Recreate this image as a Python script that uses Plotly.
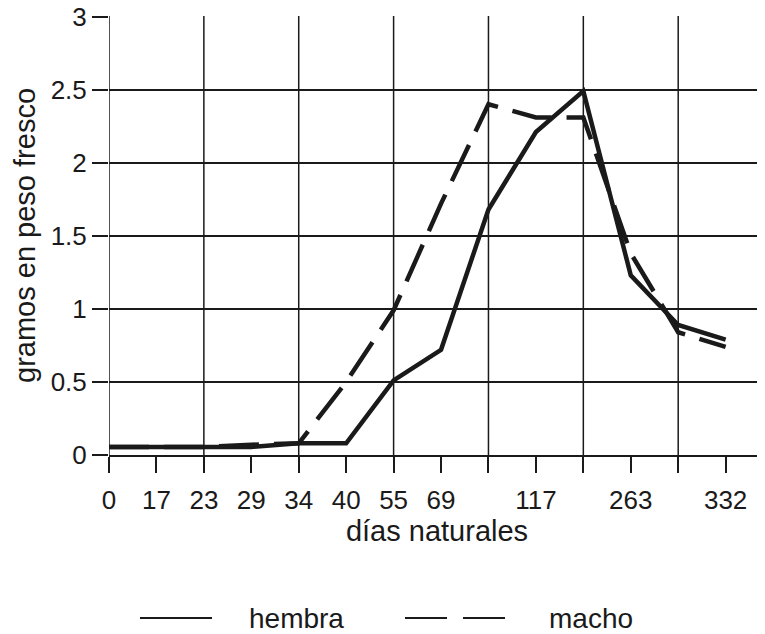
import plotly.graph_objects as go

categories = list(range(14))
tick_labels = ["0", "17", "23", "29", "34", "40", "55", "69", "", "117", "", "263", "", "332"]
hembra = [0.055, 0.055, 0.055, 0.055, 0.08, 0.08, 0.51, 0.72, 1.68, 2.21, 2.49, 1.23, 0.89, 0.79]
macho = [0.055, 0.055, 0.055, 0.07, 0.08, 0.50, 0.99, 1.72, 2.40, 2.31, 2.31, 1.38, 0.84, 0.74]
series_names = ["hembra", "macho"]

FONT = "Liberation Sans, Arial, sans-serif"
INK = "#1a1a1a"
# the page body adds an 8px offset, so the figure is drawn 8px smaller
FIG_W, FIG_H = 757, 626
M_L, M_R, M_T, M_B = 101, 0, 8, 179
PLOT_H = FIG_H - M_T - M_B
PLOT_W = FIG_W - M_L - M_R

def px_x(screen_x):
    return (screen_x - 8 - M_L) / PLOT_W

def px_y(screen_y):
    return (FIG_H - M_B - (screen_y - 8)) / PLOT_H

fig = go.Figure()
fig.add_trace(go.Scatter(x=categories, y=hembra, mode="lines", name=series_names[0],
                         line=dict(color=INK, width=4.5)))
fig.add_trace(go.Scatter(x=categories, y=macho, mode="lines", name=series_names[1],
                         line=dict(color=INK, width=4.5, dash="40px,15px")))

fig.update_layout(
    width=FIG_W, height=FIG_H,
    margin=dict(l=M_L, r=M_R, t=M_T, b=M_B, autoexpand=False),
    paper_bgcolor="white", plot_bgcolor="white",
    showlegend=False,
    font=dict(family=FONT, color=INK),
)
fig.update_xaxes(
    range=[0, 13.83], automargin=False,
    tickmode="array", tickvals=categories, ticktext=tick_labels,
    ticks="outside", ticklen=16, tickwidth=1.5, tickcolor=INK,
    tickfont=dict(size=26), ticklabelstandoff=5,
    showgrid=False,
    showline=True, linecolor=INK, linewidth=1.5,
    zeroline=False,
    title=dict(text="días naturales", font=dict(size=29), standoff=3),
)
for c in categories[::2]:
    fig.add_vline(x=c, line=dict(color=INK, width=1.5), layer="below")

fig.update_yaxes(
    range=[0, 3.004], automargin=False,
    tickmode="array", tickvals=[0, 0.5, 1, 1.5, 2, 2.5, 3],
    ticktext=["0", "0.5", "1", "1.5", "2", "2.5", "3"],
    ticks="outside", ticklen=16, tickwidth=1.5, tickcolor=INK,
    tickfont=dict(size=26), ticklabeloverflow="allow",
    showgrid=True, gridcolor=INK, gridwidth=1.5,
    showline=False, zeroline=False,
    title=dict(text="gramos en peso fresco", font=dict(size=29), standoff=6),
)

# legend drawn below the plot
line_y = px_y(618)
text_y = px_y(618)
fig.add_shape(type="line", xref="paper", yref="paper",
              x0=px_x(140), x1=px_x(212), y0=line_y, y1=line_y,
              line=dict(color=INK, width=2))
fig.add_shape(type="line", xref="paper", yref="paper",
              x0=px_x(405), x1=px_x(505), y0=line_y, y1=line_y,
              line=dict(color=INK, width=2, dash="42px,16px"))
fig.add_annotation(xref="paper", yref="paper", x=px_x(247), y=text_y,
                   text=series_names[0], showarrow=False, xanchor="left", yanchor="middle",
                   font=dict(size=28, family=FONT))
fig.add_annotation(xref="paper", yref="paper", x=px_x(547), y=text_y,
                   text=series_names[1], showarrow=False, xanchor="left", yanchor="middle",
                   font=dict(size=28, family=FONT))

fig.write_html("out.html")
